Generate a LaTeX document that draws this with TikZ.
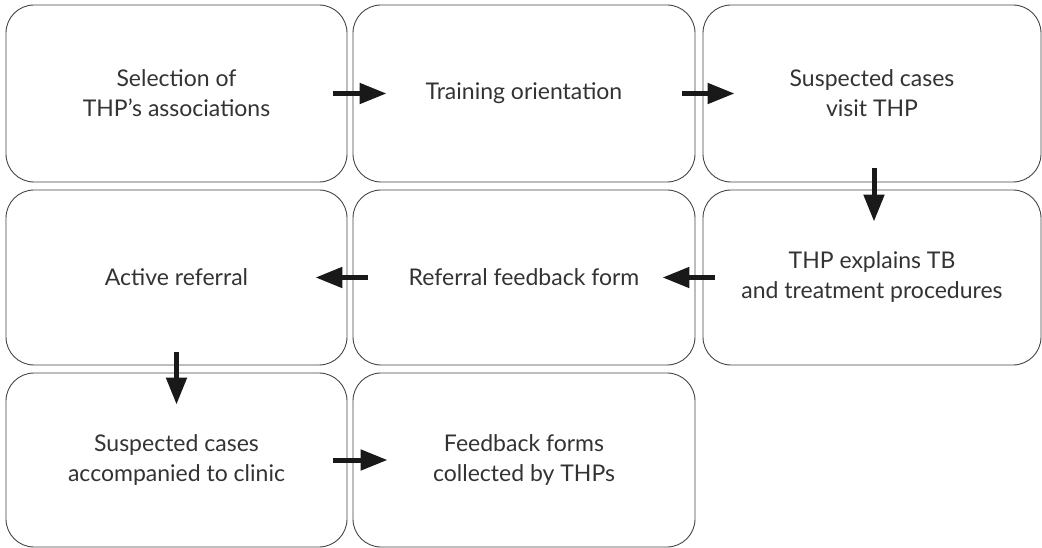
\documentclass[tikz,border=0pt]{standalone}
\usepackage{fontspec}
\setmainfont{Lato}
\usetikzlibrary{arrows.meta}
\definecolor{txt}{HTML}{333333}
\definecolor{edge}{HTML}{444444}
\begin{document}
\begin{tikzpicture}[x=1pt,y=-1pt,
  box/.style={draw=edge, line width=0.9pt, rounded corners=28pt, align=center,
    text=txt, font=\fontsize{23}{30}\selectfont, inner sep=0pt},
  arr/.style={draw=black!90, line width=5pt, -{Triangle[length=27pt,width=20pt]}, shorten >=0pt}]
\useasboundingbox (0,0) rectangle (1042,548);
\node[box, minimum width=341pt, minimum height=177pt] (b1) at (176.5,93.5) {Selection of\\THP’s associations};
\node[box, minimum width=342pt, minimum height=177pt] (b2) at (524,93.5) {Training orientation};
\node[box, minimum width=338pt, minimum height=177pt] (b3) at (872,93.5) {Suspected cases\\visit THP};
\node[box, minimum width=341pt, minimum height=175pt] (b4) at (176.5,277.5) {Active referral};
\node[box, minimum width=342pt, minimum height=175pt] (b5) at (524,277.5) {Referral feedback form};
\node[box, minimum width=338pt, minimum height=175pt] (b6) at (872,277.5) {THP explains TB\\and treatment procedures};
\node[box, minimum width=341pt, minimum height=174pt] (b7) at (176.5,460) {Suspected cases\\accompanied to clinic};
\node[box, minimum width=342pt, minimum height=174pt] (b8) at (524,460) {Feedback forms\\collected by THPs};
\draw[arr] ([xshift=-14pt]b1.east) -- ([xshift=34pt]b2.west);
\draw[arr] ([xshift=-13pt]b2.east) -- ([xshift=32pt]b3.west);
\draw[arr] ([shift={(2pt,14pt)}]b3.south) -- ([shift={(2pt,-32pt)}]b6.north);
\draw[arr] ([xshift=12pt]b6.west) -- ([xshift=-33pt]b5.east);
\draw[arr] ([xshift=15pt]b5.west) -- ([xshift=-32pt]b4.east);
\draw[arr] ([shift={(0pt,13pt)}]b4.south) -- ([shift={(0pt,-32pt)}]b7.north);
\draw[arr] ([xshift=-14pt]b7.east) -- ([xshift=35pt]b8.west);
\end{tikzpicture}
\end{document}
